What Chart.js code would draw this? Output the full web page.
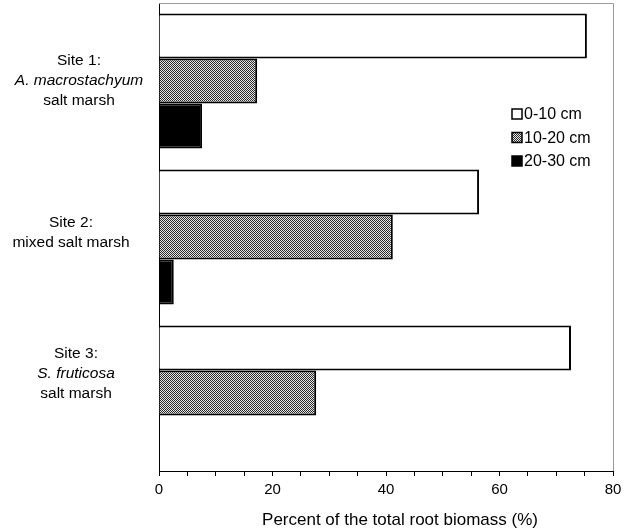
<!DOCTYPE html>
<html>
<head>
<meta charset="utf-8">
<script src="https://cdn.jsdelivr.net/npm/chart.js@4.4.1/dist/chart.umd.min.js"></script>
<style>
  body { margin: 0; background: #fff; overflow: hidden; }
  #wrap { width: 629px; height: 531px; position: relative; }
</style>
</head>
<body>
<div id="wrap"><canvas id="chart"></canvas></div>
<script>
// values (percent of total root biomass)
const sites = ["Site 1", "Site 2", "Site 3"];
const depth0to10 = [75.4, 56.4, 72.6];
const depth10to20 = [17.3, 41.2, 27.7];
const depth20to30 = [7.6, 2.6, null];
const depthNames = ["0-10 cm", "10-20 cm", "20-30 cm"];
const xTickLabels = [0, 20, 40, 60, 80];
const xTitle = "Percent of the total root biomass (%)";

// site label lines: [text, italic]
const siteLines = [
  [["Site 1:", false], ["A. macrostachyum", true], ["salt marsh", false]],
  [["Site 2:", false], ["mixed salt marsh", false]],
  [["Site 3:", false], ["S. fruticosa", true], ["salt marsh", false]],
];
// the printed labels are not quite centred on their groups
const siteLabelShift = [0, -4, -19];
const siteLabelX = [79, 71, 76];

const FONT = '"Liberation Sans", Arial, sans-serif';

// stippled grey fill like the print
const makeStipple = () => {
  const c = document.createElement("canvas");
  c.width = 2;
  c.height = 2;
  const g = c.getContext("2d");
  g.fillStyle = "#e6e6e6";
  g.fillRect(0, 0, 2, 2);
  g.fillStyle = "#2a2a2a";
  g.fillRect(0, 0, 1, 1);
  g.fillRect(1, 1, 1, 1);
  return g.createPattern(c, "repeat");
};
const stipple = makeStipple();
const fills = ["#ffffff", stipple, "#000000"];

const siteLabels = {
  id: "siteLabels",
  afterDraw(chart) {
    const ctx = chart.ctx;
    const y = chart.scales.y;
    ctx.save();
    ctx.fillStyle = "#000";
    ctx.textAlign = "center";
    ctx.textBaseline = "middle";
    siteLines.forEach((lines, i) => {
      const cy = y.getPixelForValue(i) + siteLabelShift[i];
      const lh = 20;
      const start = cy - ((lines.length - 1) * lh) / 2;
      lines.forEach(([txt, it], j) => {
        ctx.font = (it ? "italic " : "") + "15.5px " + FONT;
        ctx.fillText(txt, siteLabelX[i], start + j * lh);
      });
    });
    // x axis title, set a little right of centre as in the print
    ctx.font = "17px " + FONT;
    ctx.fillText(xTitle, 400, chart.chartArea.bottom + 49);
    ctx.restore();
  },
};

const frameAndLegend = {
  id: "frameAndLegend",
  afterDraw(chart) {
    const ctx = chart.ctx;
    const a = chart.chartArea;
    ctx.save();
    // faint top and right frame
    ctx.strokeStyle = "#9a9a9a";
    ctx.lineWidth = 1;
    ctx.beginPath();
    ctx.moveTo(a.left, a.top + 0.5);
    ctx.lineTo(a.right + 0.5, a.top + 0.5);
    ctx.lineTo(a.right + 0.5, a.bottom);
    ctx.stroke();
    // legend inside the plot
    const bx = a.right - 101;
    let by = a.top + 111;
    ctx.font = "16px " + FONT;
    ctx.textAlign = "left";
    ctx.textBaseline = "middle";
    depthNames.forEach((name, i) => {
      ctx.fillStyle = fills[i];
      ctx.fillRect(bx, by - 5, 10, 10);
      ctx.strokeStyle = "#000";
      ctx.lineWidth = 1.5;
      ctx.strokeRect(bx, by - 5, 10, 10);
      ctx.fillStyle = "#000";
      ctx.fillText(name, bx + 12, by + 1);
      by += 23.5;
    });
    ctx.restore();
  },
};

const datasets = [depth0to10, depth10to20, depth20to30].map((vals, i) => ({
  label: depthNames[i],
  data: vals,
  backgroundColor: fills[i],
  borderColor: "#000",
  borderWidth: 2,
  borderSkipped: "left",
  categoryPercentage: 0.865,
  barPercentage: 1.0,
}));

new Chart(document.getElementById("chart"), {
  type: "bar",
  data: { labels: sites, datasets: datasets },
  options: {
    indexAxis: "y",
    responsive: true,
    maintainAspectRatio: false,
    animation: false,
    layout: { padding: { top: 3, right: 16, left: 0, bottom: 0 } },
    plugins: {
      legend: { display: false },
      tooltip: { enabled: false },
    },
    scales: {
      x: {
        min: 0,
        max: 80,
        ticks: {
          stepSize: 5,
          autoSkip: false,
          maxRotation: 0,
          color: "#000",
          padding: 5,
          font: { family: FONT, size: 15 },
          callback: (v) => (xTickLabels.includes(v) ? String(v) : ""),
        },
        grid: {
          drawOnChartArea: false,
          drawTicks: true,
          tickLength: 5,
          color: "#000",
        },
        border: { color: "#000", width: 1 },
        afterFit: (scale) => {
          scale.height = 60;
        },
      },
      y: {
        ticks: { display: false },
        grid: { display: false },
        border: { color: "#000", width: 1 },
        afterFit: (scale) => {
          scale.width = 159;
        },
      },
    },
  },
  plugins: [siteLabels, frameAndLegend],
});
</script>
</body>
</html>
